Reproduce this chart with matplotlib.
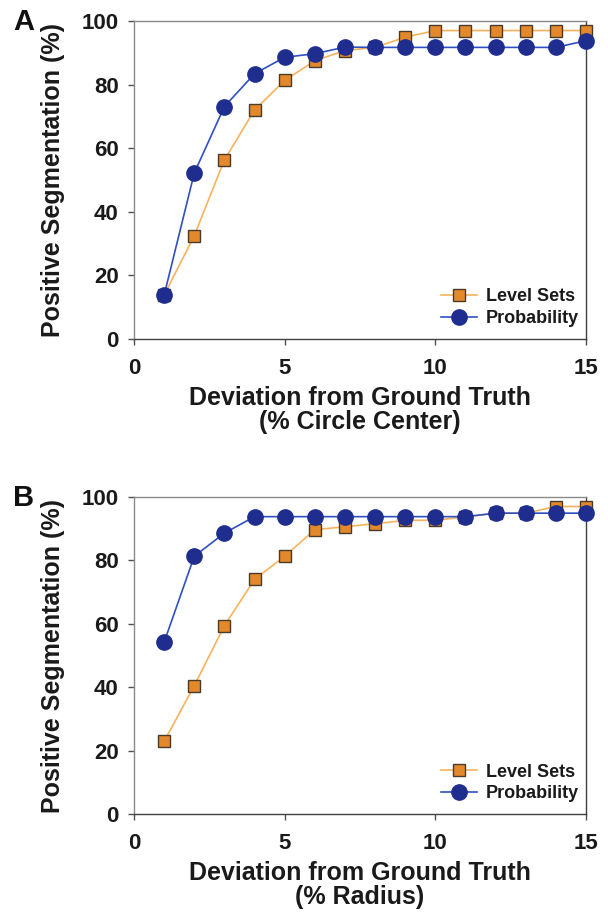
import numpy as np
import matplotlib.pyplot as plt

plt.rcParams['font.family'] = ['Liberation Sans', 'DejaVu Sans']
plt.rcParams['font.weight'] = 'bold'

# deviation steps
deviation = np.arange(1, 16)

# panel A: % circle center
level_sets_a = [13.8, 32.5, 56.3, 72.0, 81.3, 87.5, 90.7, 91.7, 94.9, 97.0, 97.0, 97.0, 97.0, 97.0, 97.0]
probability_a = [13.8, 52.2, 73.1, 83.4, 88.6, 89.7, 91.8, 91.7, 91.7, 91.7, 91.7, 91.7, 91.7, 91.7, 93.8]

# panel B: % radius
level_sets_b = [22.9, 40.5, 59.4, 74.0, 81.3, 89.7, 90.6, 91.6, 92.6, 92.7, 93.7, 94.9, 94.9, 97.0, 97.0]
probability_b = [54.2, 81.3, 88.6, 93.8, 93.8, 93.8, 93.8, 93.8, 93.8, 93.8, 93.8, 94.9, 94.9, 94.9, 94.9]

panels = [
    ("A", level_sets_a, probability_a, "Deviation from Ground Truth\n(% Circle Center)"),
    ("B", level_sets_b, probability_b, "Deviation from Ground Truth\n(% Radius)"),
]

W, H = 608, 913
fig = plt.figure(figsize=(W / 100, H / 100), dpi=100)

# axes boxes in pixels (left, top, right, bottom)
boxes = [(134, 21, 586, 339), (134, 497, 586, 814)]

for (letter, ls, pr, xlabel), (l, t, r, b) in zip(panels, boxes):
    ax = fig.add_axes([l / W, 1 - b / H, (r - l) / W, (b - t) / H])
    ax.plot(deviation, ls, color='#F9B25C', linewidth=1.2, marker='s', markersize=9,
            markerfacecolor='#E3892B', markeredgecolor='#4a3a2a', markeredgewidth=1.0,
            label='Level Sets', zorder=3, clip_on=False)
    ax.plot(deviation, pr, color='#2F4FC4', linewidth=1.2, marker='o', markersize=11,
            markerfacecolor='#1F2D8F', markeredgecolor='#1F2D8F',
            label='Probability', zorder=4, clip_on=False)
    ax.set_xlim(0, 15)
    ax.set_ylim(0, 100)
    ax.set_xticks([0, 5, 10, 15])
    ax.set_yticks([0, 20, 40, 60, 80, 100])
    ax.tick_params(axis='both', direction='out', length=4, width=1, colors='#505050',
                   labelsize=16, labelcolor='#1a1a1a')
    ax.tick_params(axis='x', pad=10)
    ax.tick_params(axis='y', pad=7)
    for side in ['left', 'top']:
        ax.spines[side].set_color('#8a8a8a')
    for side in ['right', 'bottom']:
        ax.spines[side].set_color('#404040')
    for s in ax.spines.values():
        s.set_linewidth(1.0)
        s.set_zorder(2)
    ax.set_ylabel('Positive Segmentation (%)', fontsize=18, fontweight='bold',
                  color='#1a1a1a', labelpad=12)
    ax.set_xlabel(xlabel, fontsize=18, fontweight='bold', color='#1a1a1a',
                  labelpad=5, linespacing=1.0)
    leg = ax.legend(loc='lower right', frameon=False, fontsize=13,
                    handlelength=2.0, handletextpad=0.5, borderaxespad=0.0,
                    labelspacing=0.25, bbox_to_anchor=(1.0, 0.015))
    for txt in leg.get_texts():
        txt.set_fontweight('bold')
        txt.set_color('#1a1a1a')
    fig.text(13 / W, 1 - (t + 1) / H, letter, fontsize=21, fontweight='bold',
             color='#111111', va='center', ha='left')

fig.savefig('out.png', dpi=100)
